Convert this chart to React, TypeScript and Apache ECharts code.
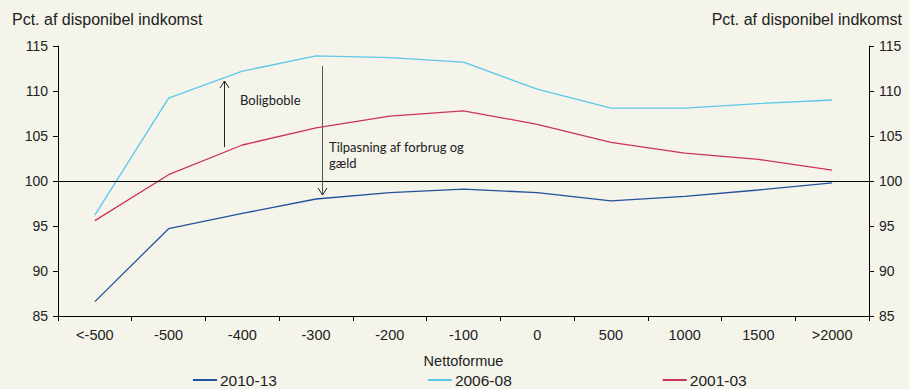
import React, { useEffect, useRef } from "react";
import * as echarts from "echarts";

const categories = ["<-500", "-500", "-400", "-300", "-200", "-100", "0", "500", "1000", "1500", ">2000"];
const s2010 = [86.6, 94.7, 96.4, 98.0, 98.7, 99.1, 98.7, 97.8, 98.3, 99.0, 99.8];
const s2006 = [96.2, 109.2, 112.2, 113.9, 113.7, 113.2, 110.2, 108.1, 108.1, 108.6, 109.0];
const s2001 = [95.6, 100.7, 104.0, 105.9, 107.2, 107.8, 106.3, 104.3, 103.1, 102.4, 101.2];
const seriesNames = ["2010-13", "2006-08", "2001-03"];
const colors = ["#23519c", "#5cc7ea", "#cc3456"];

const FONT = "Liberation Sans, Arial, sans-serif";
const ANN_FONT = "Lato, sans-serif";

export default function App() {
  const ref = useRef<HTMLDivElement>(null);
  useEffect(() => {
    const chart = echarts.init(ref.current!, null, { renderer: "svg" });
    const yAxisBase = {
      type: "value",
      min: 85,
      max: 115,
      interval: 5,
      splitLine: { show: false },
      axisLine: { show: true, lineStyle: { color: "#000", width: 1 } },
      axisTick: { show: true, length: 5, lineStyle: { color: "#000" } },
      axisLabel: { color: "#222", fontSize: 14, fontFamily: FONT, margin: 10 },
    };
    const mk = (i: number, data: number[]) => ({
      name: seriesNames[i],
      type: "line",
      data,
      symbol: "none",
      lineStyle: { color: colors[i], width: 1.3 },
      itemStyle: { color: colors[i] },
    });
    chart.setOption({
      animation: false,
      backgroundColor: "#f4f4ea",
      textStyle: { fontFamily: FONT },
      grid: { left: 58, right: 40, top: 46, bottom: 73, containLabel: false },
      xAxis: {
        type: "category",
        data: categories,
        boundaryGap: true,
        name: "Nettoformue",
        nameLocation: "middle",
        nameGap: 37,
        nameTextStyle: { color: "#222", fontSize: 14.5, fontFamily: FONT },
        axisLine: { show: true, lineStyle: { color: "#000", width: 1 } },
        axisTick: { show: true, length: 5, alignWithLabel: false, lineStyle: { color: "#000" } },
        axisLabel: { color: "#222", fontSize: 14.5, fontFamily: FONT, margin: 11 },
      },
      yAxis: [
        { ...yAxisBase, position: "left" },
        { ...yAxisBase, position: "right" },
      ],
      legend: {
        top: 367,
        left: 188,
        itemWidth: 24,
        itemHeight: 2,
        itemGap: 151,
        icon: "rect",
        textStyle: { color: "#222", fontSize: 15.5, fontFamily: FONT, padding: [0, 0, 0, -2] },
        data: seriesNames,
      },
      series: [
        {
          ...mk(0, s2010),
          markLine: {
            silent: true,
            symbol: "none",
            label: { show: false },
            lineStyle: { color: "#000", width: 1, type: "solid" },
            data: [{ yAxis: 100 }],
          },
        },
        mk(1, s2006),
        mk(2, s2001),
      ],
      graphic: [
        { type: "text", left: 12, top: 11, style: { text: "Pct. af disponibel indkomst", fill: "#222", font: `16px ${FONT}` } },
        { type: "text", right: 7, top: 11, style: { text: "Pct. af disponibel indkomst", fill: "#222", font: `16px ${FONT}` } },
        // Boligboble arrow
        { type: "line", shape: { x1: 224.5, y1: 147, x2: 224.5, y2: 81 }, style: { stroke: "#222", lineWidth: 1 } },
        { type: "polyline", shape: { points: [[220, 88], [224.5, 81], [229, 88]] }, style: { stroke: "#222", lineWidth: 1, fill: null } },
        { type: "text", x: 240, y: 100, style: { text: "Boligboble", fill: "#222", font: `13px ${ANN_FONT}`, verticalAlign: "middle" } },
        // Tilpasning arrow
        { type: "line", shape: { x1: 322.5, y1: 66, x2: 322.5, y2: 195 }, style: { stroke: "#555", lineWidth: 1 } },
        { type: "polyline", shape: { points: [[318, 188], [322.5, 195], [327, 188]] }, style: { stroke: "#222", lineWidth: 1, fill: null } },
        { type: "text", x: 329, y: 147, style: { text: "Tilpasning af forbrug og", fill: "#222", font: `13px ${ANN_FONT}`, verticalAlign: "middle" } },
        { type: "text", x: 329, y: 163, style: { text: "gæld", fill: "#222", font: `13px ${ANN_FONT}`, verticalAlign: "middle" } },
      ],
    });
    return () => chart.dispose();
  }, []);
  return <div ref={ref} style={{ width: 909, height: 389, position: "absolute", left: 0, top: 0 }} />;
}
